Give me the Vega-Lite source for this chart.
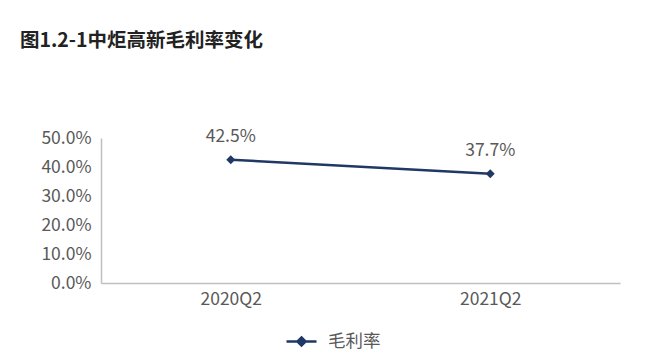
{
  "$schema": "https://vega.github.io/schema/vega-lite/v6.json",
  "autosize": "none",
  "width": 519,
  "height": 145,
  "padding": {"left": 101, "top": 138, "right": 34, "bottom": 71},
  "background": "white",
  "config": {
    "view": {"stroke": null},
    "font": "Noto Sans CJK SC"
  },
  "title": {
    "text": "图1.2-1中炬高新毛利率变化",
    "anchor": "start",
    "frame": "group",
    "dx": -81,
    "offset": 76,
    "fontSize": 19.5,
    "fontWeight": "bold",
    "color": "#222222",
    "font": "Noto Sans CJK SC"
  },
  "data": {
    "values": [
      {"period": "2020Q2", "rate": 0.425, "series": "毛利率"},
      {"period": "2021Q2", "rate": 0.377, "series": "毛利率"}
    ]
  },
  "encoding": {
    "x": {
      "field": "period",
      "type": "ordinal",
      "scale": {"type": "point", "padding": 0.5},
      "axis": {
        "title": null,
        "labelAngle": 0,
        "ticks": false,
        "labelPadding": 7,
        "labelFontSize": 17.5,
        "labelColor": "#595959",
        "domainColor": "#bfbfbf",
        "domainWidth": 1.5
      }
    },
    "y": {
      "field": "rate",
      "type": "quantitative",
      "scale": {"domain": [0, 0.5]},
      "axis": {
        "title": null,
        "format": ".1%",
        "values": [0, 0.1, 0.2, 0.3, 0.4, 0.5],
        "labelOverlap": false,
        "labelFlush": false,
        "grid": false,
        "ticks": false,
        "labelPadding": 10,
        "labelFontSize": 17.5,
        "labelColor": "#595959",
        "domainColor": "#bfbfbf",
        "domainWidth": 1.5
      }
    }
  },
  "layer": [
    {
      "mark": {"type": "line", "color": "#1f3864", "strokeWidth": 2.5},
      "encoding": {
        "color": {
          "field": "series",
          "type": "nominal",
          "scale": {"range": ["#1f3864"]},
          "legend": {
            "title": null,
            "orient": "none",
            "legendX": 184,
            "legendY": 187,
            "symbolType": "M-1,0H1M0,-0.27L0.27,0L0,0.27L-0.27,0Z",
            "symbolSize": 900,
            "symbolStrokeWidth": 2.5,
            "symbolFillColor": "#1f3864",
            "symbolStrokeColor": "#1f3864",
            "labelFontSize": 17.5,
            "labelColor": "#595959",
            "labelOffset": 10
          }
        }
      }
    },
    {
      "mark": {"type": "point", "shape": "diamond", "filled": true, "size": 80, "color": "#1f3864", "opacity": 1}
    },
    {
      "mark": {"type": "text", "dy": -23, "fontSize": 17.5, "color": "#595959"},
      "encoding": {
        "text": {"field": "rate", "type": "quantitative", "format": ".1%"}
      }
    }
  ]
}
